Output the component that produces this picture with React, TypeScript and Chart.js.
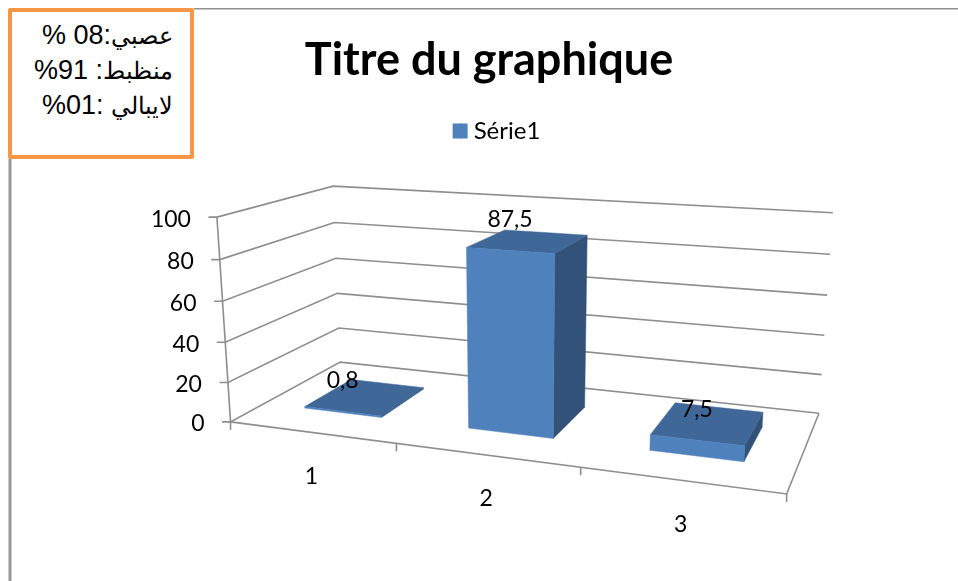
import React, { useEffect, useRef } from "react";
import { Chart, registerables } from "chart.js";

Chart.register(...registerables);

const categories = ["1", "2", "3"];
const seriesName = "Série1";
const seriesValues = [0.8, 87.5, 7.5];
const boxLines = ["عصبي:08 %", "منظبط: 91%", "لايبالي :01%"];
const titleText = "Titre du graphique";

const FONT = "Lato";
const FRONT = "#4F81BD";
const TOP = "#3F6797";
const SIDE = "#335279";
const GRID = "#8E8E8E";
const DEPTH_FRONT = 0.28;
const DEPTH_BACK = 0.725;
const LEGEND_SHIFT = 7.5;
const SWATCH_EXTRA = 6;

// Corners of the 3D plot box as seen in the picture: [u, v, d] -> [x, y]
const boxCorners: number[][] = [
  [0, 0, 0, 230.7, 421.7],
  [0, 1, 0, 216.7, 217.3],
  [0, 0, 1, 340, 362.3],
  [0, 1, 1, 333.3, 186],
  [1, 0, 1, 819, 413.3],
  [1, 1, 1, 832.7, 212.7],
  [1, 0, 0, 786.7, 494],
];

function solve(A: number[][], b: number[]): number[] {
  const n = b.length;
  const M = A.map((r, i) => [...r, b[i]]);
  for (let c = 0; c < n; c++) {
    let p = c;
    for (let r = c + 1; r < n; r++) if (Math.abs(M[r][c]) > Math.abs(M[p][c])) p = r;
    [M[c], M[p]] = [M[p], M[c]];
    for (let r = 0; r < n; r++) {
      if (r === c) continue;
      const f = M[r][c] / M[c][c];
      for (let k = c; k <= n; k++) M[r][k] -= f * M[c][k];
    }
  }
  return M.map((r, i) => r[n] / r[i]);
}

function fitProjection() {
  const rows: number[][] = [];
  const rhs: number[] = [];
  for (const [u, v, d, x, y] of boxCorners) {
    rows.push([u, v, d, 1, 0, 0, 0, 0, -x * u, -x * v, -x * d]);
    rhs.push(x);
    rows.push([0, 0, 0, 0, u, v, d, 1, -y * u, -y * v, -y * d]);
    rhs.push(y);
  }
  const n = 11;
  const AtA = Array.from({ length: n }, (_, i) =>
    Array.from({ length: n }, (_, j) => rows.reduce((s, r) => s + r[i] * r[j], 0))
  );
  const Atb = Array.from({ length: n }, (_, i) => rows.reduce((s, r, k) => s + r[i] * rhs[k], 0));
  const h = solve(AtA, Atb);
  return (u: number, v: number, d: number): [number, number] => {
    const w = h[8] * u + h[9] * v + h[10] * d + 1;
    return [
      (h[0] * u + h[1] * v + h[2] * d + h[3]) / w,
      (h[4] * u + h[5] * v + h[6] * d + h[7]) / w,
    ];
  };
}

const project = fitProjection();

function line(ctx: CanvasRenderingContext2D, a: number[], b: number[], ...rest: number[][]) {
  ctx.beginPath();
  ctx.moveTo(a[0], a[1]);
  ctx.lineTo(b[0], b[1]);
  rest.forEach((p) => ctx.lineTo(p[0], p[1]));
  ctx.stroke();
}

function face(ctx: CanvasRenderingContext2D, pts: number[][], color: string) {
  ctx.beginPath();
  pts.forEach((p, i) => (i ? ctx.lineTo(p[0], p[1]) : ctx.moveTo(p[0], p[1])));
  ctx.closePath();
  ctx.fillStyle = color;
  ctx.fill();
  ctx.strokeStyle = color;
  ctx.lineWidth = 0.5;
  ctx.stroke();
}

const frame3d = {
  id: "frame3d",
  afterLayout(chart: any) {
    const lg = chart.legend;
    lg.left += LEGEND_SHIFT;
    lg.right += LEGEND_SHIFT;
    lg.legendHitBoxes.forEach((h: any) => {
      h.left += LEGEND_SHIFT;
    });
  },
  beforeDraw(chart: any) {
    const { ctx } = chart;
    ctx.save();
    ctx.fillStyle = "#FFFFFF";
    ctx.fillRect(0, 0, chart.width, chart.height);
    ctx.fillStyle = "#8F8F8F";
    ctx.fillRect(194, 8, chart.width - 194, 1.5);
    ctx.fillStyle = "#989898";
    ctx.fillRect(8.5, 159, 3, chart.height - 159);
    ctx.restore();
  },
  beforeDatasetsDraw(chart: any) {
    const { ctx, chartArea: a } = chart;
    const xs = chart.scales.x;
    const ys = chart.scales.y;
    const toU = (px: number) => (px - a.left) / (a.right - a.left);
    const toV = (px: number) => (a.bottom - px) / (a.bottom - a.top);
    ctx.save();
    ctx.lineCap = "butt";

    // Widen the legend swatch towards the text, keeping the text close to it
    const hit = chart.legend.legendHitBoxes[0];
    if (hit) {
      ctx.fillStyle = FRONT;
      ctx.fillRect(hit.left + 8, hit.top + (hit.height - 15) / 2, SWATCH_EXTRA + 1, 15);
    }

    // Walls and value ticks
    ctx.strokeStyle = GRID;
    ctx.lineWidth = 1.6;
    ctx.font = `23px ${FONT}`;
    ctx.textBaseline = "middle";
    ys.ticks.forEach((t: any) => {
      const v = toV(ys.getPixelForValue(t.value));
      const f = project(0, v, 0);
      const b = project(0, v, 1);
      const r = project(1, v, 1);
      line(ctx, [f[0] - 8.5, f[1]], f, b, r);
      ctx.fillStyle = "#000000";
      ctx.textAlign = "right";
      ctx.fillText(String(t.value), f[0] - 26, f[1] + 2);
    });
    line(ctx, project(0, 1, 0), project(0, 0, 0));
    // Floor edges
    line(ctx, project(0, 0, 0), project(1, 0, 0), project(1, 0, 1));

    // Category ticks and labels
    const n = categories.length;
    for (let i = 0; i <= n; i++) {
      const p = project(i / n, 0, 0);
      line(ctx, p, [p[0], p[1] + 8]);
    }
    ctx.textAlign = "center";
    ctx.fillStyle = "#000000";
    xs.ticks.forEach((t: any, i: number) => {
      const p = project(toU(xs.getPixelForValue(i)), 0, 0);
      ctx.fillText(xs.getLabelForValue(t.value), p[0], p[1] + 44);
    });

    // Bars
    const meta = chart.getDatasetMeta(0);
    meta.data.forEach((bar: any) => {
      const u0 = toU(bar.x - bar.width / 2);
      const u1 = toU(bar.x + bar.width / 2);
      const v = toV(bar.y);
      const d0 = DEPTH_FRONT;
      const d1 = DEPTH_BACK;
      face(ctx, [project(u1, 0, d0), project(u1, 0, d1), project(u1, v, d1), project(u1, v, d0)], SIDE);
      face(ctx, [project(u0, v, d0), project(u1, v, d0), project(u1, v, d1), project(u0, v, d1)], TOP);
      face(ctx, [project(u0, 0, d0), project(u1, 0, d0), project(u1, v, d0), project(u0, v, d0)], FRONT);
    });

    // Data labels
    ctx.fillStyle = "#000000";
    ctx.font = `23px ${FONT}`;
    meta.data.forEach((bar: any, i: number) => {
      const p = project(toU(bar.x), toV(bar.y), DEPTH_FRONT);
      ctx.fillText(String(seriesValues[i]).replace(".", ","), p[0], p[1] - 31);
    });
    ctx.restore();
    return false;
  },
};

const boxFontCss = `@font-face{font-family:'BoxArabic';src:local('DejaVu Sans');unicode-range:U+0600-06FF;size-adjust:90%;}`;

export default function App() {
  const ref = useRef<HTMLCanvasElement>(null);
  useEffect(() => {
    const chart = new Chart(ref.current as HTMLCanvasElement, {
      type: "bar",
      data: {
        labels: categories,
        datasets: [
          {
            label: seriesName,
            data: seriesValues,
            backgroundColor: FRONT,
            barPercentage: 0.48,
            categoryPercentage: 1,
          },
        ],
      },
      options: {
        animation: false,
        responsive: false,
        layout: { padding: { left: 20, right: 0, top: 0, bottom: 0 } },
        scales: {
          x: { display: true, grid: { display: false }, border: { display: false }, ticks: { display: false } },
          y: {
            display: true,
            min: 0,
            max: 100,
            grid: { display: false },
            border: { display: false },
            ticks: { display: false, stepSize: 20 },
          },
        },
        plugins: {
          tooltip: { enabled: false },
          title: {
            display: true,
            text: titleText,
            color: "#000000",
            font: { family: FONT, size: 45, weight: "bold" },
            padding: { top: 33, bottom: 27 },
          },
          legend: {
            display: true,
            position: "top",
            labels: {
              boxWidth: 9,
              boxHeight: 15,
              color: "#000000",
              padding: 5,
              font: { family: FONT, size: 24 },
            },
          },
        },
      },
      plugins: [frame3d],
    } as any);
    return () => chart.destroy();
  }, []);

  return (
    <div style={{ position: "fixed", left: 0, top: 0, width: 958, height: 581, overflow: "hidden", background: "#fff" }}>
      <style>{boxFontCss}</style>
      <canvas ref={ref} width={958} height={581} style={{ position: "absolute", left: 0, top: 0, display: "block" }} />
      <div
        style={{
          position: "absolute",
          left: 8,
          top: 8,
          width: 186,
          height: 151,
          boxSizing: "border-box",
          border: "4.5px solid #F79646",
          borderRadius: 2,
          background: "#fff",
          color: "#000",
          direction: "rtl",
          textAlign: "right",
          font: "27px/35px BoxArabic, 'Liberation Sans', sans-serif",
          padding: "6px 17px 0 0",
          whiteSpace: "nowrap",
        }}
      >
        {boxLines.map((t) => (
          <div key={t}>{t}</div>
        ))}
      </div>
    </div>
  );
}
